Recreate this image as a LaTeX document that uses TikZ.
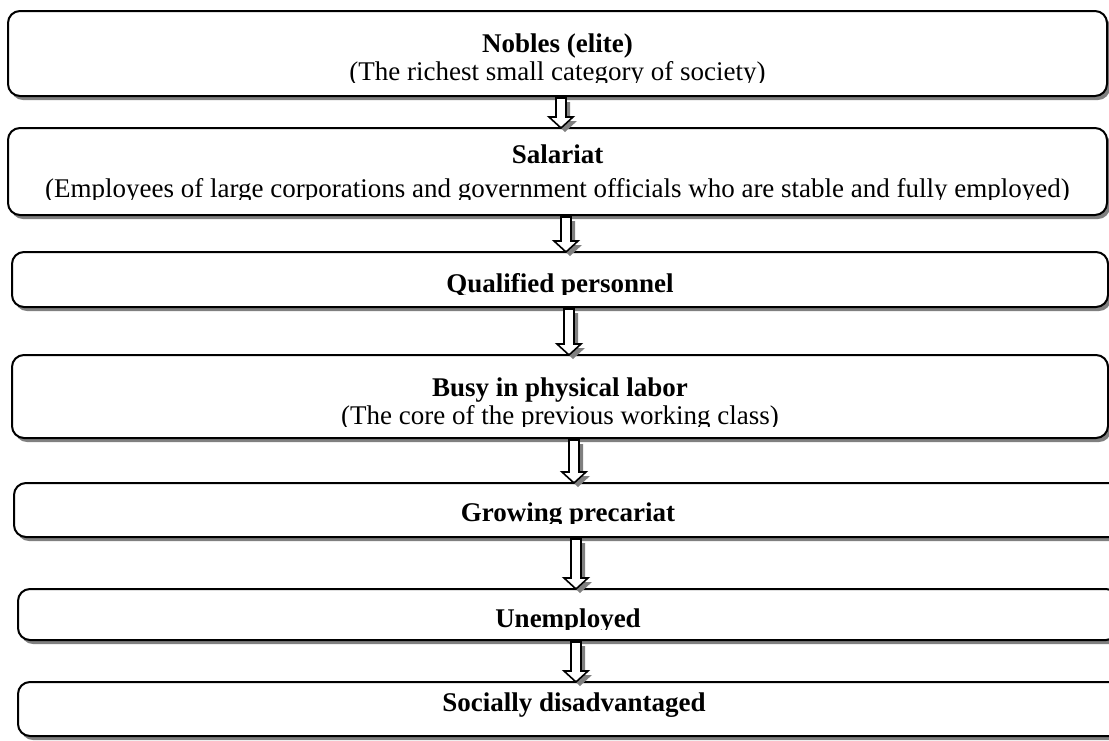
\documentclass[tikz,border=0pt]{standalone}
\usepackage{fontspec}
\setmainfont{Liberation Serif}
\usetikzlibrary{
    calc,
    shadows
}
\tikzset{
    tier/.style={draw, line width=1pt, rounded corners=6pt, fill=white,
        inner sep=0pt, outer sep=0pt,
        drop shadow={shadow xshift=1.5pt, shadow yshift=-2pt, fill=black!50, opacity=1}},
    tiertext/.style={align=center, inner sep=0pt,
        font=\fontsize{13.5}{14}\selectfont},
    flowbody/.style={draw, line width=0.8pt, fill=white, line join=miter,
        drop shadow={shadow xshift=2pt, shadow yshift=-2pt, fill=black!50, opacity=1}}
}
% hollow block arrow from the bottom of #1 to the top of #2, at x = #3
\newcommand{\flowarrow}[3]{%
    \coordinate (#1-out) at (#1.south -| #3,0);
    \coordinate (#2-in) at (#2.north -| #3,0);
    \path[flowbody] ($(#1-out)+(-5,2)$) -- ($(#1-out)+(5,2)$)
        -- ($(#2-in)+(5,-11)$) -- ($(#2-in)+(12,-11)$) -- (#2-in)
        -- ($(#2-in)+(-12,-11)$) -- ($(#2-in)+(-5,-11)$) -- cycle;
}

\begin{document}
\begin{tikzpicture}[x=0.5pt, y=-0.5pt]
                    \useasboundingbox (0,0) rectangle (1109,740);

                    \node[tier, minimum width=549.5pt, minimum height=42.5pt] (nobles) at (557.5, 53.5) {};
                    \node[tier, minimum width=549.5pt, minimum height=43.5pt] (salariat) at (557.5, 171.5) {};
                    \node[tier, minimum width=548pt, minimum height=27.5pt] (qualified) at (560, 279.5) {};
                    \node[tier, minimum width=548pt, minimum height=41.5pt] (labor) at (560, 396.5) {};
                    \node[tier, minimum width=554pt, minimum height=27pt] (precariat) at (568, 510) {};
                    \node[tier, minimum width=550pt, minimum height=25.5pt] (unemployed) at (568, 614.5) {};
                    \node[tier, minimum width=556pt, minimum height=27pt] (disadvantaged) at (574, 709) {};

                    % text is cut off a little above the bottom of each box
                    \begin{scope}
                        \clip (nobles.north west) rectangle ($(nobles.south east)+(0,-14)$);
                        \node[tiertext] (nobles-text) at ($(nobles.center)+(0,6.3)$)
                            {\textbf{Nobles (elite)}\\(The richest small category of society)};
                    \end{scope}
                    \begin{scope}
                        \clip (salariat.north west) rectangle ($(salariat.south east)+(0,-16)$);
                        \node[tiertext] (salariat-text) at ($(salariat.center)+(0,2.3)$)
                            {\textbf{Salariat}\\[3pt](Employees of large corporations and government officials who are stable and fully employed)};
                    \end{scope}
                    \begin{scope}
                        \clip (qualified.north west) rectangle ($(qualified.south east)+(0,-13)$);
                        \node[tiertext] (qualified-text) at ($(qualified.center)+(0,6.3)$)
                            {\textbf{Qualified personnel}};
                    \end{scope}
                    \begin{scope}
                        \clip (labor.north west) rectangle ($(labor.south east)+(0,-12)$);
                        \node[tiertext] (labor-text) at ($(labor.center)+(0,7.3)$)
                            {\textbf{Busy in physical labor}\\(The core of the previous working class)};
                    \end{scope}
                    \begin{scope}
                        \clip (precariat.north west) rectangle ($(precariat.south east)+(0,-14)$);
                        \node[tiertext] (precariat-text) at ($(precariat.center)+(0,4.8)$)
                            {\textbf{Growing precariat}};
                    \end{scope}
                    \begin{scope}
                        \clip (unemployed.north west) rectangle ($(unemployed.south east)+(0,-11)$);
                        \node[tiertext] (unemployed-text) at ($(unemployed.center)+(0,6.3)$)
                            {\textbf{Unemployed}};
                    \end{scope}
                    \node[tiertext] (disadvantaged-text) at ($(disadvantaged.center)+(0,-4.2)$)
                        {\textbf{Socially disadvantaged}};

                    \flowarrow{nobles}{salariat}{561}
                    \flowarrow{salariat}{qualified}{566}
                    \flowarrow{qualified}{labor}{569}
                    \flowarrow{labor}{precariat}{574}
                    \flowarrow{precariat}{unemployed}{576}
                    \flowarrow{unemployed}{disadvantaged}{576}
                \end{tikzpicture}
\end{document}
